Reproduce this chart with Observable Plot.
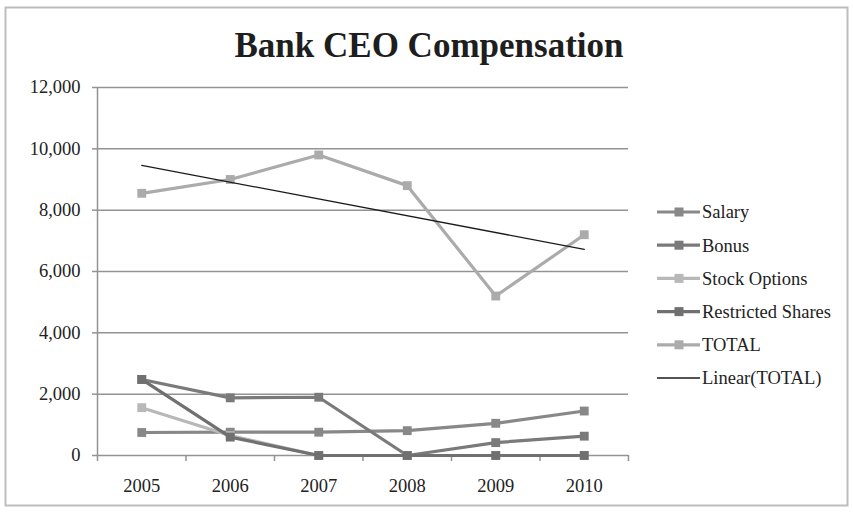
<!DOCTYPE html>
<html>
<head>
<meta charset="utf-8">
<script src="https://cdn.jsdelivr.net/npm/d3@7"></script>
<script src="https://cdn.jsdelivr.net/npm/@observablehq/plot@0.6"></script>
<style>
  html, body { margin: 0; padding: 0; background: #fff; }
  svg { display: block; }
</style>
</head>
<body>
<div id="chart"></div>
<script>
const title = "Bank CEO Compensation";
const years = [2005, 2006, 2007, 2008, 2009, 2010];
const seriesNames = ["Salary", "Bonus", "Stock Options", "Restricted Shares", "TOTAL"];
const salary = [750, 760, 760, 810, 1050, 1450];
const bonus = [2480, 1880, 1900, 0, 420, 630];
const stockOptions = [1560, 650, 0, 0, 0, 0];
const restrictedShares = [2480, 600, 0, 0, 0, 0];
const total = [8550, 9000, 9800, 8800, 5200, 7200];
const trendLabel = "Linear(TOTAL)";
const yTicks = [0, 2000, 4000, 6000, 8000, 10000, 12000];

const seriesValues = [salary, bonus, stockOptions, restrictedShares, total];
const seriesColors = ["#888888", "#7a7a7a", "#b8b8b8", "#707070", "#ababab"];

const rows = seriesNames.map((name, s) =>
  years.map((year, i) => ({ series: name, year, value: seriesValues[s][i] }))
);
const totalRows = rows[4];
const boundaries = [...years.map(y => y - 0.5), years[years.length - 1] + 0.5];

const W = 853, H = 513;
const gridColor = "#939393";

const marks = [
  Plot.gridY(yTicks, { stroke: gridColor, strokeOpacity: 1, strokeWidth: 1.5 }),
  Plot.axisY(yTicks, {
    tickSize: 5, tickPadding: 12, tickFormat: d3.format(","), label: null,
    stroke: gridColor, strokeWidth: 1.5, fill: "#222", fontSize: 18.5
  }),
  Plot.ruleX([boundaries[0]], { stroke: gridColor, strokeWidth: 1.5 }),
  Plot.axisX(boundaries, {
    tickSize: 6, tickFormat: () => "", label: null, stroke: gridColor, strokeWidth: 1.5
  }),
  Plot.axisX(years, {
    tickSize: 0, tickPadding: 23, tickFormat: d => String(d), label: null,
    fill: "#222", fontSize: 18.5
  })
];

rows.forEach((data, s) => {
  marks.push(Plot.line(data, {
    x: "year", y: "value", stroke: seriesColors[s], strokeWidth: 3.2
  }));
  marks.push(Plot.dot(data, {
    x: "year", y: "value", symbol: "square", r: 5, fill: seriesColors[s], stroke: "none"
  }));
});

marks.push(Plot.linearRegressionY(totalRows, {
  x: "year", y: "value", ci: 0, stroke: "#1a1a1a", strokeWidth: 1.3
}));

const chart = Plot.plot({
  width: W,
  height: H,
  marginLeft: 97,
  marginRight: 225,
  marginTop: 87,
  marginBottom: 58,
  x: { type: "linear", domain: [boundaries[0], boundaries[boundaries.length - 1]], axis: null, label: null },
  y: { domain: [0, 12000], axis: null, label: null },
  style: { fontFamily: "'Liberation Serif', 'DejaVu Serif', serif", fontSize: "18.5px", background: "#fff", color: "#222" },
  marks
});

const svg = d3.select(chart);

// outer frame
svg.insert("rect", ":first-child")
  .attr("x", 5.5).attr("y", 7.5).attr("width", 842).attr("height", 498)
  .attr("fill", "#fff").attr("stroke", "#bdbdbd").attr("stroke-width", 2);

// title
svg.append("text")
  .attr("x", 429).attr("y", 57)
  .attr("text-anchor", "middle")
  .attr("font-family", "'Liberation Serif', serif")
  .attr("font-weight", "bold")
  .attr("font-size", 35)
  .attr("fill", "#1e1e1e")
  .text(title);

// legend
const legendItems = seriesNames.map((n, i) => ({ name: n, color: seriesColors[i], marker: true }))
  .concat([{ name: trendLabel, color: "#1a1a1a", marker: false }]);
const lg = svg.append("g").attr("text-anchor", "start");
legendItems.forEach((item, i) => {
  const y = 212 + i * 33.2;
  lg.append("line").attr("x1", 657).attr("x2", 700).attr("y1", y).attr("y2", y)
    .attr("stroke", item.color).attr("stroke-width", item.marker ? 3.2 : 1.3);
  if (item.marker) {
    lg.append("rect").attr("x", 679 - 4.5).attr("y", y - 4.5).attr("width", 9).attr("height", 9)
      .attr("fill", item.color);
  }
  lg.append("text").attr("x", 702).attr("y", y).attr("dy", "0.35em")
    .attr("text-anchor", "start")
    .attr("font-family", "'Liberation Serif', serif").attr("font-size", 18.5)
    .attr("fill", "#222").text(item.name);
});

document.getElementById("chart").appendChild(chart);
</script>
</body>
</html>
